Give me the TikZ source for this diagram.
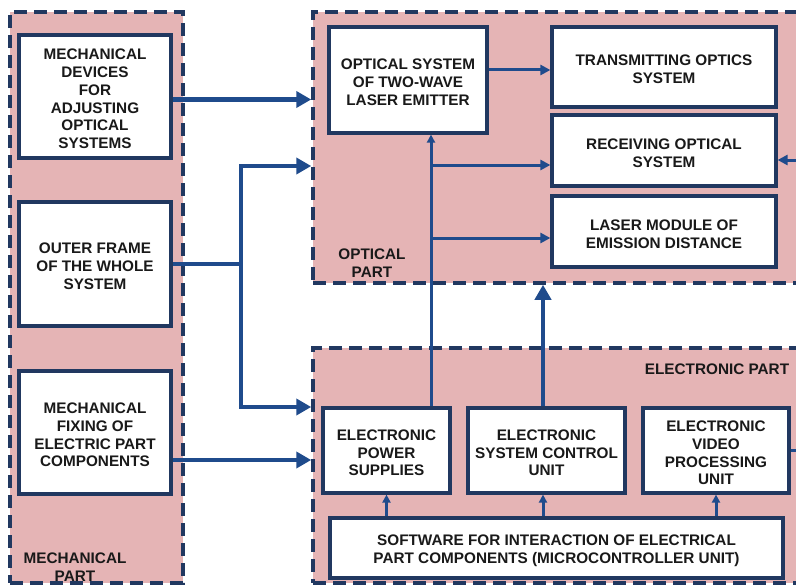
\documentclass[tikz,border=0pt]{standalone}
\usepackage{fontspec}
\setmainfont{Liberation Sans}
\usetikzlibrary{arrows.meta,calc}
\definecolor{pinkfill}{RGB}{229,180,181}
\definecolor{navy}{RGB}{33,56,96}
\definecolor{arrowblue}{RGB}{31,75,140}
\definecolor{txt}{RGB}{25,25,25}
\newcommand\tsh{\rule{0pt}{15.5pt}}
\tikzset{
  part/.style={draw=navy, fill=pinkfill, line width=3.5pt, dash pattern=on 13pt off 7pt, inner sep=0pt},
  blk/.style={draw=navy, fill=white, line width=3.2pt, align=center, inner sep=2pt, text=txt,
    font=\fontsize{15.3}{17.8}\selectfont\bfseries},
  lbl/.style={align=center, text=txt, font=\fontsize{15.3}{17.8}\selectfont\bfseries},
  bigarr/.style={draw=arrowblue, line width=4.8pt, -{Triangle[length=15pt,width=16pt]}},
  midarr/.style={draw=arrowblue, line width=3pt, -{Triangle[length=10pt,width=10pt]}},
  smallarr/.style={draw=arrowblue, line width=3pt, -{Triangle[length=8pt,width=8pt]}},
  plain/.style={draw=arrowblue, line width=3pt},
}
\begin{document}
\begin{tikzpicture}[x=1pt,y=-1pt]
\useasboundingbox (0,0) rectangle (796,586);
\clip (0,0) rectangle (796,586);
\fill[white] (0,0) rectangle (796,586);
% parts
\node[part, minimum width=173pt, minimum height=571pt] (mech) at (96.5,297.5) {};
\node[part, minimum width=497pt, minimum height=271pt] (opt) at (561.5,147.5) {};
\node[part, minimum width=497pt, minimum height=235pt] (elec) at (561.5,465.5) {};
% mechanical blocks
\node[blk, minimum width=152pt, minimum height=123pt] (m1) at (95,96.5) {\tsh MECHANICAL\\DEVICES\\FOR\\ADJUSTING\\OPTICAL\\SYSTEMS};
\node[blk, minimum width=152pt, minimum height=124pt] (m2) at (95,264) {\tsh OUTER FRAME\\OF THE WHOLE\\SYSTEM};
\node[blk, minimum width=152pt, minimum height=123pt] (m3) at (95,432.5) {\tsh MECHANICAL\\FIXING OF\\ELECTRIC PART\\COMPONENTS};
\node[lbl] (mlab) at (75,567) {MECHANICAL\\PART};
% optical blocks
\node[blk, minimum width=158pt, minimum height=106pt] (emit) at (408,80) {\tsh OPTICAL SYSTEM\\OF TWO-WAVE\\LASER EMITTER};
\node[blk, minimum width=224pt, minimum height=80pt] (trans) at (664,67) {\tsh TRANSMITTING OPTICS\\SYSTEM};
\node[blk, minimum width=224pt, minimum height=71pt] (rec) at (664,150.5) {\tsh RECEIVING OPTICAL\\SYSTEM};
\node[blk, minimum width=224pt, minimum height=71pt] (las) at (664,231.5) {\tsh LASER MODULE OF\\EMISSION DISTANCE};
\node[lbl] (olab) at (372,263) {OPTICAL\\PART};
% electronic blocks
\node[lbl] (elab) at (717,369) {ELECTRONIC PART};
\node[blk, minimum width=127pt, minimum height=85pt] (ps) at (386.5,450.5) {\tsh ELECTRONIC\\POWER\\SUPPLIES};
\node[blk, minimum width=157pt, minimum height=85pt] (sc) at (546.5,450.5) {\tsh ELECTRONIC\\SYSTEM CONTROL\\UNIT};
\node[blk, minimum width=146pt, minimum height=85pt] (vid) at (716,450.5) {\tsh ELECTRONIC\\VIDEO\\PROCESSING\\UNIT};
\node[blk, minimum width=453pt, minimum height=60pt] (sw) at (556.5,548) {\tsh SOFTWARE FOR INTERACTION OF ELECTRICAL\\PART COMPONENTS (MICROCONTROLLER UNIT)};
% helper coordinates
\coordinate (br) at (241,264);
\coordinate (vx) at (431,0);
\coordinate (scx) at (543,0);
\coordinate (rin) at (800,160);
% mechanical connectors
\draw[bigarr] ([yshift=-3pt]m1.east) -- ([yshift=-3pt]m1.east -| opt.west);
\draw[plain, line width=4.8pt] (m2.east) -- (br);
\draw[bigarr] (br) |- ($(opt.west)+(0,18.5)$);
\draw[bigarr] (br) |- ($(elec.west)+(0,-58.5)$);
\draw[bigarr] ([yshift=-27.5pt]m3.east) -- ([yshift=-27.5pt]m3.east -| elec.west);
% optical connectors
\draw[midarr] ([yshift=10pt]emit.east) -- ([yshift=10pt]emit.east -| trans.west);
\draw[smallarr] (ps.north -| vx) -- (emit.south -| vx);
\draw[midarr] (vx |- 0,165) -- (rec.west |- 0,165);
\draw[midarr] (vx |- 0,238) -- (las.west |- 0,238);
\draw[midarr] (rin) -- (rin -| rec.east);
% electronic connectors
\draw[bigarr] (sc.north -| scx) -- (opt.south -| scx);
\draw[smallarr] (sw.north -| ps) -- (ps.south);
\draw[smallarr] (sw.north -| scx) -- (sc.south -| scx);
\draw[smallarr] (sw.north -| vid) -- (vid.south);
\draw[plain] (vid.east) -- ++(12,0);
\end{tikzpicture}
\end{document}
